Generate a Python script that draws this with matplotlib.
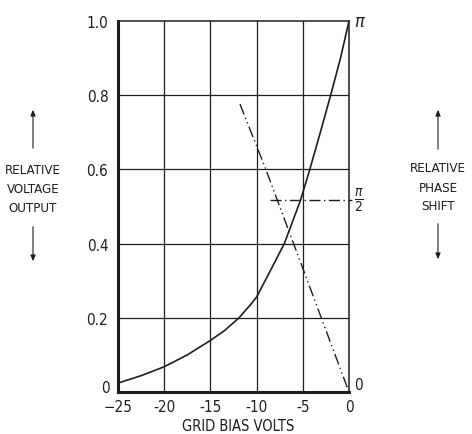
#Grid bias vs. relative voltage output and phase shift

import numpy as np
import matplotlib.pyplot as plt
from matplotlib import font_manager

# narrow lettering if some is installed
narrow = None
for f in font_manager.fontManager.ttflist:
    if ('Narrow' in f.name or 'Condensed' in f.fname) and f.style == 'normal' and f.weight in (400, 'normal'):
        narrow = f
        break
if narrow is not None:
    plt.rcParams['font.family'] = [narrow.name, 'DejaVu Sans']
    plt.rcParams['font.stretch'] = narrow.stretch
else:
    plt.rcParams['font.family'] = ['DejaVu Sans']

ink = '#1e1e1e'

#data

bias_ticks = [-25, -20, -15, -10, -5, 0]
bias_labels = ['\u221225', '-20', '-15', '-10', '-5', '0']
out_ticks = [0.2, 0.4, 0.6, 0.8, 1.0]
out_labels = ['0.2', '0.4', '0.6', '0.8', '1.0']

# relative voltage output (solid curve)
volt_x = [-25, -22.5, -20, -17.5, -15, -13.5, -11.9, -10.5, -10, -8.7, -7.0, -5.26, -4.3, -3.1, -1.93, -0.92, 0]
volt_y = [0.024, 0.044, 0.068, 0.10, 0.139, 0.165, 0.2, 0.24, 0.256, 0.318, 0.4, 0.516, 0.595, 0.70, 0.805, 0.9, 1.0]

# relative phase shift (dash-dot line)
phase_x = [-11.8, -9.0, -6.0, -3.0, 0]
phase_y = [0.776, 0.6, 0.4, 0.2, 0.0]

# pi/2 reference level
half_x = [-8.55, 0.3]
half_y = [0.518, 0.518]


fig = plt.figure(figsize=(4.72, 4.35), dpi=100)
ax = fig.add_axes([118/472, 1-393/435, 231/472, 371/435])

ax.set_xlim(-25, 0)
ax.set_ylim(0, 1.0)

for v in bias_ticks[1:-1]:
    ax.axvline(v, color=ink, lw=0.9, zorder=1)
for v in out_ticks[:-1]:
    ax.axhline(v, color=ink, lw=0.9, zorder=1)

ax.plot(volt_x, volt_y, color=ink, lw=1.2, zorder=3, solid_joinstyle='round')
ax.plot(phase_x, phase_y, color=ink, lw=1.0, dashes=(8, 2.5, 1, 2.5, 1, 2.5), zorder=3)
ax.plot(half_x, half_y, color=ink, lw=1.0, dashes=(8, 2.5, 1, 2.5), clip_on=False, zorder=3)

for s in ['left', 'bottom']:
    ax.spines[s].set_linewidth(2.2)
for s in ['top', 'right']:
    ax.spines[s].set_linewidth(1.1)
for s in ax.spines.values():
    s.set_color(ink)

ax.set_xticks(bias_ticks)
ax.set_xticklabels(bias_labels)
ax.set_yticks(out_ticks)
ax.set_yticklabels(out_labels)
ax.tick_params(length=0, labelsize=11, colors=ink)
ax.tick_params(axis='x', pad=5)
ax.tick_params(axis='y', pad=7)

# lone zero of the output scale sits above the -25
ax.text(-25.9, 0.012, '0', fontsize=11, color=ink, ha='right', va='center')

# phase shift scale on the right
ax.text(0.5, 1.0, r'$\pi$', fontsize=13, color=ink, ha='left', va='center')
ax.text(0.5, half_y[0], r'$\frac{\pi}{2}$', fontsize=14, color=ink, ha='left', va='center')
ax.text(0.6, 0.0, '0', fontsize=11, color=ink, ha='left', va='bottom')

fig.text(238/472, 1-427/435, 'GRID BIAS VOLTS', fontsize=10.5, color=ink, ha='center', va='center')

# side captions with arrows
def side_label(xc, yc, txt, y_up, y_dn):
    fig.text(xc/472, 1-yc/435, txt, fontsize=9.5, color=ink, ha='center', va='center',
             linespacing=1.6, multialignment='center')
    arr = dict(arrowstyle='-|>,head_length=0.35,head_width=0.15', color=ink, lw=0.8)
    fig.add_artist(plt.Annotation('', xy=(xc/472, 1-y_up[1]/435), xytext=(xc/472, 1-y_up[0]/435),
                                  xycoords='figure fraction', arrowprops=arr))
    fig.add_artist(plt.Annotation('', xy=(xc/472, 1-y_dn[1]/435), xytext=(xc/472, 1-y_dn[0]/435),
                                  xycoords='figure fraction', arrowprops=arr))

side_label(33, 190, 'RELATIVE\nVOLTAGE\nOUTPUT', (152, 108), (225, 265))
side_label(438, 188, 'RELATIVE\nPHASE\nSHIFT', (153, 108), (222, 263))

plt.savefig('out.png', dpi=100)
